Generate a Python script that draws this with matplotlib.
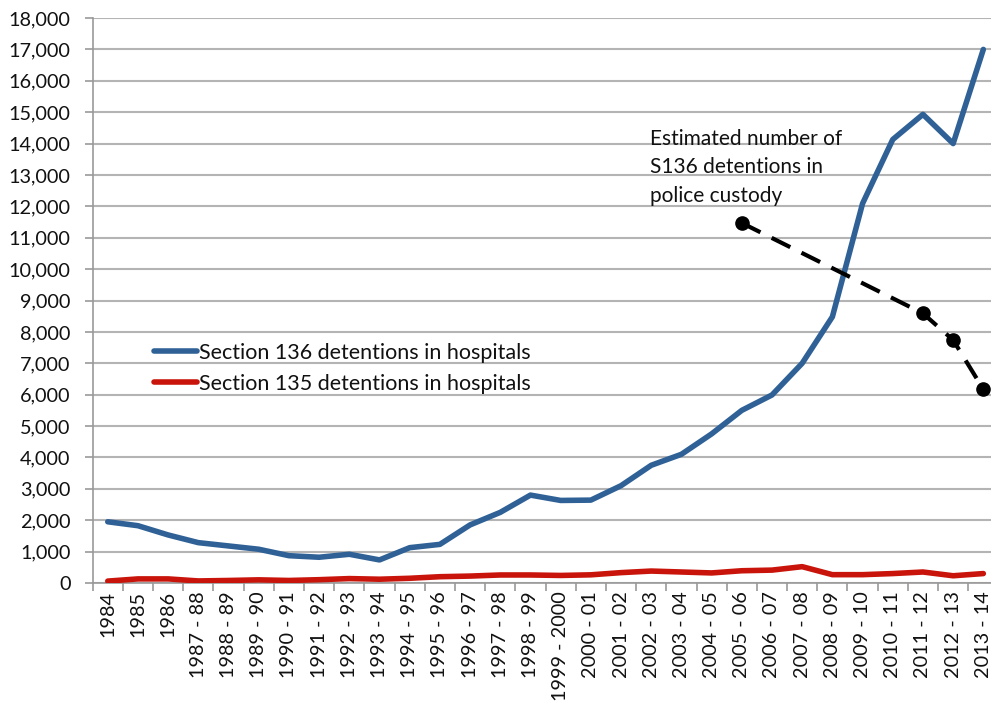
import numpy as np
import matplotlib.pyplot as plt
from matplotlib.ticker import FuncFormatter, FixedLocator

plt.rcParams['font.family'] = ['Lato', 'DejaVu Sans']

# === Data ===
periods = ["1984", "1985", "1986", "1987 - 88", "1988 - 89", "1989 - 90",
           "1990 - 91", "1991 - 92", "1992 - 93", "1993 - 94", "1994 - 95",
           "1995 - 96", "1996 - 97", "1997 - 98", "1998 - 99", "1999 - 2000",
           "2000 - 01", "2001 - 02", "2002 - 03", "2003 - 04", "2004 - 05",
           "2005 - 06", "2006 - 07", "2007 - 08", "2008 - 09", "2009 - 10",
           "2010 - 11", "2011 - 12", "2012 - 13", "2013 - 14"]

s136_hospital = [1950, 1825, 1530, 1285, 1180, 1075, 870, 820, 915, 735,
                 1125, 1230, 1850, 2250, 2800, 2630, 2640, 3100, 3750, 4100,
                 4750, 5500, 5990, 7000, 8480, 12090, 14130, 14930, 14000, 17000]

s135_hospital = [60, 130, 130, 65, 80, 100, 80, 105, 140, 120,
                 150, 200, 220, 255, 255, 240, 260, 330, 380, 350,
                 320, 390, 410, 520, 265, 265, 300, 350, 230, 300]

police_periods = ["2005 - 06", "2011 - 12", "2012 - 13", "2013 - 14"]
police_custody = [11470, 8590, 7740, 6170]

BLUE = "#2f6196"
RED = "#c8140a"
GRID = "#b4b4b4"

fig = plt.figure(figsize=(9.91, 7.04), dpi=100)
ax = fig.add_axes([0.0935, 0.1719, 0.914, 0.8025])

x = np.arange(len(periods))
ax.plot(x, s136_hospital, color=BLUE, lw=4, solid_joinstyle="round",
        solid_capstyle="round", label="Section 136 detentions in hospitals", zorder=3)
ax.plot(x, s135_hospital, color=RED, lw=4, solid_joinstyle="round",
        solid_capstyle="round", label="Section 135 detentions in hospitals", zorder=3)

px = [periods.index(p) for p in police_periods]
ax.plot(px, police_custody, color="black", lw=3, ls=(0, (5, 3)),
        marker="o", ms=9.5, zorder=4)

ax.text(px[0] - 3.05, 14480, "Estimated number of\nS136 detentions in\npolice custody",
        fontsize=15, va="top", ha="left", linespacing=1.55, color="#111111")

# axes styling
ax.set_xlim(-0.5, len(periods) - 0.5)
ax.set_ylim(0, 18000)
ax.set_yticks(np.arange(0, 18001, 1000))
ax.yaxis.set_major_formatter(FuncFormatter(lambda v, _: f"{int(v):,}"))
ax.yaxis.grid(True, color=GRID, lw=1.5)
ax.set_axisbelow(True)

ax.set_xticks(x)
ax.set_xticklabels(periods, rotation=90)
ax.xaxis.set_minor_locator(FixedLocator(np.arange(-0.5, len(periods), 1)))
ax.tick_params(axis="x", which="major", length=0, pad=6, labelsize=14.3)
ax.tick_params(axis="x", which="minor", length=6, color="#999999", width=1.2)
ax.tick_params(axis="y", length=6, color="#999999", width=1.2, labelsize=14.3, pad=10)
for lab in ax.get_yticklabels():
    lab.set_color("#111111")
for lab in ax.get_xticklabels():
    lab.set_color("#111111")

for side in ["top", "right"]:
    ax.spines[side].set_visible(False)
ax.spines["left"].set_color("#999999")
ax.spines["left"].set_linewidth(1.2)
ax.spines["bottom"].set_color("#999999")
ax.spines["bottom"].set_linewidth(1.2)

leg = ax.legend(loc="upper left", bbox_to_anchor=(0.058, 0.44), frameon=False,
                fontsize=15.5, handlelength=2.0, handletextpad=0.1,
                labelspacing=0.5, borderaxespad=0)
for t in leg.get_texts():
    t.set_color("#111111")

fig.savefig("out.png", dpi=100)
